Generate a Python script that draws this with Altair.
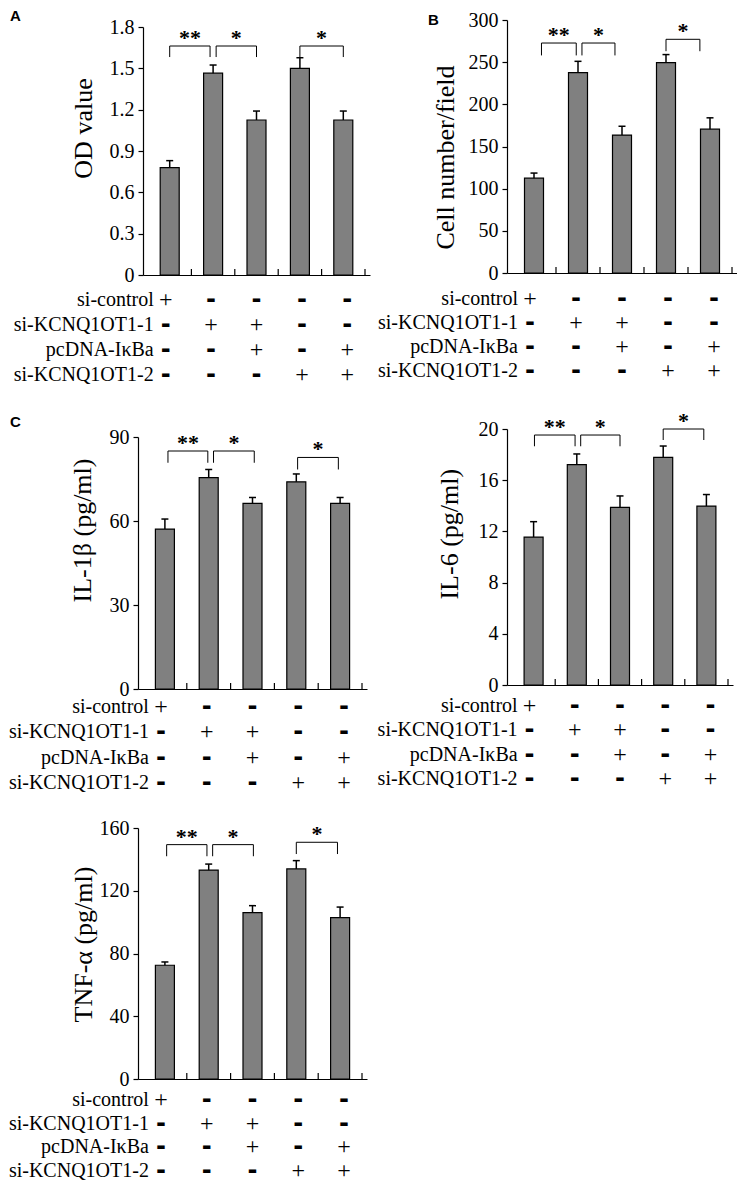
import altair as alt
import pandas as pd

FONT = "Liberation Serif"

positions = [1, 2, 3, 4, 5]
boundaries = [1.5, 2.5, 3.5, 4.5, 5.5]

row_names = ["si-control", "si-KCNQ1OT1-1", "pcDNA-I\u03baBa", "si-KCNQ1OT1-2"]
signs_si_control = ["+", "-", "-", "-", "-"]
signs_si_kcnq_1 = ["-", "+", "+", "-", "-"]
signs_pcdna = ["-", "-", "+", "-", "+"]
signs_si_kcnq_2 = ["-", "-", "-", "+", "+"]
row_signs = [signs_si_control, signs_si_kcnq_1, signs_pcdna, signs_si_kcnq_2]

sig_labels = ["**", "*", "*"]

# Panel A: OD value
a_values = [0.78, 1.465, 1.125, 1.50, 1.125]
a_err_top = [0.83, 1.524, 1.19, 1.577, 1.19]
a_ticks = [0, 0.3, 0.6, 0.9, 1.2, 1.5, 1.8]
a_brk_start = [1.0, 2.07, 4.0]
a_brk_end = [1.93, 3.0, 5.0]
a_brk_top = [1.662, 1.662, 1.662]
a_brk_leg = [1.582, 1.582, 1.582]

# Panel B: Cell number/field
b_values = [112.5, 237.5, 163.5, 249.5, 170.5]
b_err_top = [118.5, 251.0, 174.0, 259.0, 184.0]
b_ticks = [0, 50, 100, 150, 200, 250, 300]
b_brk_start = [1.17, 2.09, 4.0]
b_brk_end = [1.96, 2.84, 4.77]
b_brk_top = [272.7, 272.7, 277.1]
b_brk_leg = [258.0, 258.0, 263.0]

# Panel C: IL-1beta
c_values = [57.1, 75.5, 66.3, 74.0, 66.3]
c_err_top = [60.7, 78.4, 68.4, 76.8, 68.4]
c_ticks = [0, 30, 60, 90]
c_brk_start = [1.07, 2.11, 4.03]
c_brk_end = [1.98, 3.04, 4.96]
c_brk_top = [85.0, 85.0, 82.7]
c_brk_leg = [80.8, 80.8, 78.4]

# Panel IL-6
d_values = [11.56, 17.22, 13.88, 17.79, 13.98]
d_err_top = [12.76, 18.05, 14.77, 18.67, 14.88]
d_ticks = [0, 4, 8, 12, 16, 20]
d_brk_start = [1.02, 2.09, 4.0]
d_brk_end = [1.96, 3.0, 4.94]
d_brk_top = [19.53, 19.53, 20.0]
d_brk_leg = [18.65, 18.65, 19.14]

# Panel TNF-alpha
e_values = [72.5, 133.2, 106.1, 133.9, 102.9]
e_err_top = [74.6, 137.0, 110.5, 139.2, 109.6]
e_ticks = [0, 40, 80, 120, 160]
e_brk_start = [1.04, 2.09, 4.0]
e_brk_end = [1.96, 3.02, 4.94]
e_brk_top = [149.4, 149.4, 150.9]
e_brk_leg = [142.0, 142.0, 143.4]


def x_scale(xrange):
    xs = dict(domain=[0.5, 5.5], nice=False, zero=False)
    if xrange is not None:
        xs["range"] = xrange
    return alt.Scale(**xs)


def make_plot(values, err_top, ticks, bstart, bend, btop, bleg, ytitle,
              width, height, title_x, title_y, xrange=None, yrange=None,
              axis_offset=0, label_expr=None, letter=None, letter_dx=0,
              letter_dy=0):
    bars_df = pd.DataFrame({"pos": positions, "val": values, "top": err_top})
    brk_df = pd.DataFrame({"x1": bstart, "x2": bend, "top": btop, "leg": bleg,
                           "label": sig_labels})
    bnd_df = pd.DataFrame({"b": boundaries})

    ys = dict(domain=[0, ticks[-1]], nice=False)
    if yrange is not None:
        ys["range"] = yrange
    ax = dict(values=ticks, tickSize=5, labelPadding=4, titleX=title_x,
              titleY=title_y, titleBaseline="middle", titleAlign="center",
              titleAngle=270, orient="left", grid=False, offset=axis_offset)
    if label_expr:
        ax["labelExpr"] = label_expr

    def X(f, **kw):
        return alt.X(f, title=None, **kw)

    def Y(f, **kw):
        return alt.Y(f, title=ytitle, **kw)

    base_bar = alt.Chart(bars_df)
    bars = base_bar.mark_bar(size=19, color="#808080", stroke="black",
                             strokeWidth=1.2).encode(
        x=X("pos:Q", scale=x_scale(xrange),
            axis=alt.Axis(labels=False, ticks=False, grid=False)),
        y=Y("val:Q", scale=alt.Scale(**ys), axis=alt.Axis(**ax)),
    )
    stems = base_bar.mark_rule(color="black", strokeWidth=1.5).encode(
        x=X("pos:Q"), y=Y("val:Q"), y2="top:Q")
    caps = base_bar.mark_rule(color="black", strokeWidth=1.5, xOffset=-3.5,
                              x2Offset=3.5).encode(
        x=X("pos:Q"), x2="pos:Q", y=Y("top:Q"))
    inner = alt.Chart(bnd_df).mark_rule(color="black", strokeWidth=1.2,
                                        y2Offset=-6).encode(
        x=X("b:Q"), y=alt.YDatum(0, title=ytitle), y2=alt.Y2Datum(0))
    base_brk = alt.Chart(brk_df)
    hbr = base_brk.mark_rule(color="black", strokeWidth=1).encode(
        x=X("x1:Q"), x2="x2:Q", y=Y("top:Q"))
    legl = base_brk.mark_rule(color="black", strokeWidth=1).encode(
        x=X("x1:Q"), y=Y("top:Q"), y2="leg:Q")
    legr = base_brk.mark_rule(color="black", strokeWidth=1).encode(
        x=X("x2:Q"), y=Y("top:Q"), y2="leg:Q")
    stars = base_brk.transform_calculate(mid="(datum.x1 + datum.x2) / 2").mark_text(
        font=FONT, fontSize=22, fontWeight="bold", baseline="alphabetic",
        dy=-1, color="black").encode(
        x=X("mid:Q"), y=Y("top:Q"), text="label:N")

    props = dict(width=width, height=height)
    if letter:
        props["title"] = alt.TitleParams(
            text=letter, anchor="start", frame="group", orient="top",
            font="Liberation Sans", fontSize=15, fontWeight="bold",
            color="black", baseline="alphabetic", offset=0,
            dx=letter_dx, dy=letter_dy)
    return alt.layer(bars, inner, stems, caps, hbr, legl, legr, stars).properties(**props)


def make_table(width, height, table_range, xrange=None):
    tbl_df = pd.DataFrame({
        "ri": [i for i, _ in enumerate(row_names) for _ in positions],
        "col": positions * len(row_names),
        "sign": [s for signs in row_signs for s in signs],
    })
    lab_df = pd.DataFrame({"ri": list(range(len(row_names))), "row": row_names})
    ysc = dict(domain=[0, len(row_names) - 1], range=table_range, nice=False,
               zero=False)
    plus = alt.Chart(tbl_df).transform_filter("datum.sign == '+'").mark_text(
        font=FONT, fontSize=24, baseline="middle", color="black").encode(
        x=alt.X("col:Q", scale=x_scale(xrange), axis=None),
        y=alt.Y("ri:Q", scale=alt.Scale(**ysc), axis=None),
        text="sign:N")
    minus = alt.Chart(tbl_df).transform_filter("datum.sign == '-'").mark_text(
        font="DejaVu Sans", fontSize=24, fontWeight="bold", baseline="middle",
        color="black").encode(
        x=alt.X("col:Q", axis=None),
        y=alt.Y("ri:Q", axis=None),
        text="sign:N")
    labels = alt.Chart(lab_df).mark_text(
        font=FONT, fontSize=20, align="right", baseline="middle", dx=-12,
        color="black").encode(
        x=alt.XDatum(1, axis=None),
        y=alt.Y("ri:Q", axis=None),
        text="row:N")
    return alt.layer(plus, minus, labels).properties(width=width, height=height)


pA = make_plot(a_values, a_err_top, a_ticks, a_brk_start, a_brk_end, a_brk_top,
               a_brk_leg, "OD value", 232, 255, -59.5, 108,
               xrange=[5, 232], yrange=[255, 7], axis_offset=-5,
               label_expr="datum.value == 0 ? '0' : format(datum.value, '.1f')",
               letter="A", letter_dx=-128, letter_dy=18.5)
tA = make_table(232, 139, [25, 100], xrange=[5, 232])
pB = make_plot(b_values, b_err_top, b_ticks, b_brk_start, b_brk_end, b_brk_top,
               b_brk_leg, "Cell number/field", 230, 253, -62, 137,
               letter="B", letter_dx=-79, letter_dy=29.5)
tB = make_table(230, 139, [24, 96])
pC = make_plot(c_values, c_err_top, c_ticks, c_brk_start, c_brk_end, c_brk_top,
               c_brk_leg, "IL-1\u03b2 (pg/ml)", 229, 275, -56, 116,
               yrange=[275, 23], letter="C", letter_dx=-128, letter_dy=28)
tC = make_table(229, 139, [18, 94])
pD = make_plot(d_values, d_err_top, d_ticks, d_brk_start, d_brk_end, d_brk_top,
               d_brk_leg, "IL-6 (pg/ml)", 226, 271, -57.7, 119.7,
               yrange=[271, 15])
tD = make_table(226, 139, [17, 90])
pE = make_plot(e_values, e_err_top, e_ticks, e_brk_start, e_brk_end, e_brk_top,
               e_brk_leg, "TNF-\u03b1 (pg/ml)", 229, 251, -54.5, 116)
tE = make_table(229, 100, [21, 92])
blank = alt.Chart(pd.DataFrame({"a": [0]})).mark_text(text="").properties(
    width=10, height=10)

chart = alt.concat(
    pA, pB, tA, tB, pC, pD, tC, tD, pE, blank, tE,
    columns=2, spacing={"row": 0, "column": 137}, bounds="flush",
).properties(padding=0, background="white").configure_view(
    stroke=None
).configure_axis(
    domainColor="black", domainWidth=1.2, tickColor="black", tickWidth=1.2,
    labelFont=FONT, labelFontSize=20, labelColor="black",
    titleFont=FONT, titleFontSize=26, titleFontWeight="normal", titleColor="black",
    grid=False,
)

chart.save("out.html", embed_options={"renderer": "svg", "actions": False})
